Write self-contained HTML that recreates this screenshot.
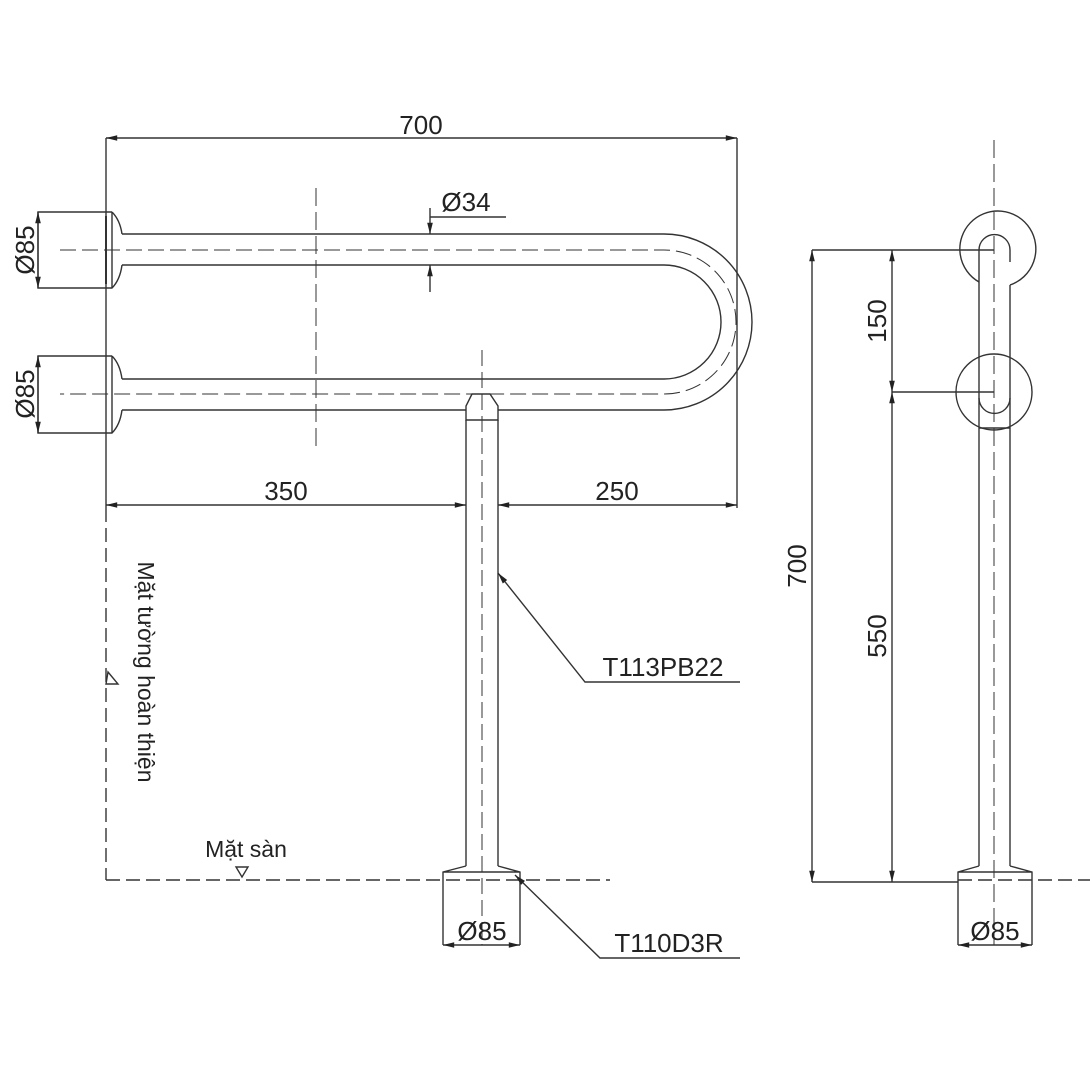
<!DOCTYPE html>
<html><head><meta charset="utf-8"><style>
body{margin:0;background:#fff}
svg{display:block}
text{font-family:"Liberation Sans",sans-serif;fill:#222}
</style></head><body>
<svg width="1090" height="1090" viewBox="0 0 1090 1090" xmlns="http://www.w3.org/2000/svg">
<defs>
<marker id="a" viewBox="0 0 14 10" refX="14" refY="5" markerWidth="15" markerHeight="8" orient="auto-start-reverse" markerUnits="userSpaceOnUse"><path d="M0,1.5 L14,5 L0,8.5 z" fill="#222"/></marker>
</defs>
<g stroke="#333" stroke-width="1.4" fill="none">
<line x1="106" y1="138" x2="106" y2="508"/>
<line x1="106" y1="508" x2="106" y2="880" stroke-dasharray="14,6"/>
<path d="M112,212 H38 V288 H112 Q120,280 122,265 M112,212 Q120,220 122,234"/>
<line x1="112" y1="212" x2="112" y2="288"/>
<line x1="106" y1="216" x2="106" y2="284" stroke-width="2"/>
<path d="M112,356 H38 V433 H112 Q120,425 122,410 M112,356 Q120,364 122,379"/>
<line x1="112" y1="356" x2="112" y2="433"/>
<path d="M122,234 H664 A88,88 0 0 1 664,410 H498 M466,410 H122"/>
<path d="M122,265 H664 A57,57 0 0 1 664,379 H122"/>
<path d="M60,250 H664 A72,72 0 0 1 664,394 H60" stroke-dasharray="16,6" stroke-width="1"/>
<line x1="316" y1="188" x2="316" y2="452" stroke-dasharray="18,6" stroke-width="1"/>
<path d="M472,394 L490,394 L498,406 V420 H466 V406 Z"/>
<line x1="466" y1="420" x2="466" y2="866"/>
<line x1="498" y1="420" x2="498" y2="866"/>
<path d="M466,866 L443,872 V945 M498,866 L520,872 V945 M443,872 H520"/>
<line x1="482" y1="350" x2="482" y2="945" stroke-dasharray="16,6" stroke-width="1"/>
<line x1="106" y1="880" x2="610" y2="880" stroke-dasharray="14,6"/>
<line x1="106" y1="138" x2="737" y2="138" marker-start="url(#a)" marker-end="url(#a)"/>
<line x1="737" y1="138" x2="737" y2="508"/>
<line x1="106" y1="505" x2="466" y2="505" marker-start="url(#a)" marker-end="url(#a)"/>
<line x1="498" y1="505" x2="737" y2="505" marker-start="url(#a)" marker-end="url(#a)"/>
<line x1="38" y1="212" x2="38" y2="288" marker-start="url(#a)" marker-end="url(#a)"/>
<line x1="38" y1="356" x2="38" y2="433" marker-start="url(#a)" marker-end="url(#a)"/>
<line x1="430" y1="208" x2="430" y2="234" marker-end="url(#a)"/>
<line x1="430" y1="292" x2="430" y2="265" marker-end="url(#a)"/>
<line x1="430" y1="217" x2="506" y2="217"/>
<line x1="443" y1="945" x2="520" y2="945" marker-start="url(#a)" marker-end="url(#a)"/>
<polyline points="498,573 585,682 740,682" marker-start="url(#a)"/>
<polyline points="515,875 600,958 740,958" marker-start="url(#a)"/>
<path d="M236,867 L248,867 L242,877 Z"/>
<path d="M108,672 L118,684 L106,684 Z"/>
<line x1="994" y1="140" x2="994" y2="945" stroke-dasharray="18,6" stroke-width="1"/>
<path d="M1010,285 A38,38 0 1 0 979,282"/>
<path d="M979,250 A15.5,15.5 0 0 1 1010,250"/>
<path d="M979,250 V866 M1010,250 V262 M1010,285 V866"/>
<circle cx="994" cy="392" r="38"/>
<path d="M979,398 A15.5,15.5 0 0 0 1010,398 M979,428 H1010"/>
<path d="M979,866 L958,872 V945 M1010,866 L1032,872 V945 M958,872 H1032"/>
<line x1="958" y1="880" x2="1090" y2="880" stroke-dasharray="14,6"/>
<line x1="812" y1="250" x2="994" y2="250"/>
<line x1="892" y1="392" x2="994" y2="392"/>
<line x1="812" y1="882" x2="958" y2="882"/>
<line x1="812" y1="250" x2="812" y2="882" marker-start="url(#a)" marker-end="url(#a)"/>
<line x1="892" y1="250" x2="892" y2="392" marker-start="url(#a)" marker-end="url(#a)"/>
<line x1="892" y1="392" x2="892" y2="882" marker-start="url(#a)" marker-end="url(#a)"/>
<line x1="958" y1="945" x2="1032" y2="945" marker-start="url(#a)" marker-end="url(#a)"/>
</g>
<g font-size="26">
<text x="421" y="134" text-anchor="middle">700</text>
<text x="466" y="211" text-anchor="middle">Ø34</text>
<text x="286" y="500" text-anchor="middle">350</text>
<text x="617" y="500" text-anchor="middle">250</text>
<text x="663" y="676" text-anchor="middle">T113PB22</text>
<text x="669" y="952" text-anchor="middle">T110D3R</text>
<text x="482" y="940" text-anchor="middle">Ø85</text>
<text x="995" y="940" text-anchor="middle">Ø85</text>
<text x="246" y="857" text-anchor="middle" font-size="23">Mặt sàn</text>
<text transform="translate(34,250) rotate(-90)" text-anchor="middle">Ø85</text>
<text transform="translate(34,394) rotate(-90)" text-anchor="middle">Ø85</text>
<text transform="translate(138,672) rotate(90)" text-anchor="middle" font-size="23">Mặt tường hoàn thiện</text>
<text transform="translate(806,566) rotate(-90)" text-anchor="middle">700</text>
<text transform="translate(886,321) rotate(-90)" text-anchor="middle">150</text>
<text transform="translate(886,636) rotate(-90)" text-anchor="middle">550</text>
</g>
</svg>
</body></html>
